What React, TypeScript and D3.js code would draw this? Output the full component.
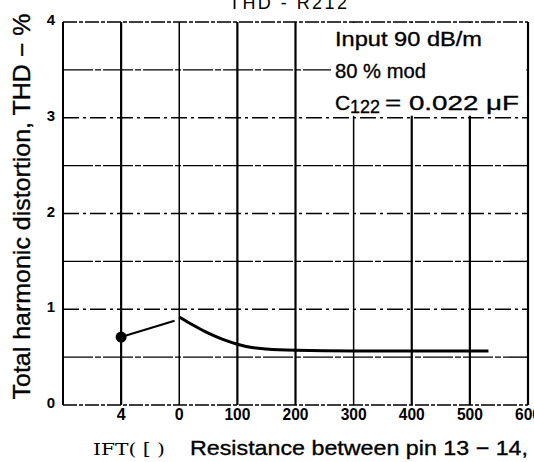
import React from 'react';
import * as d3 from 'd3';

// x values in ohms; -100 stands for the open-circuit ("4") column
const xTickValues = [-100, 0, 100, 200, 300, 400, 500, 600];
const xTickLabels = ['4', '0', '100', '200', '300', '400', '500', '600'];
const yTickValues = [0, 1, 2, 3, 4];
const yHalfLines = [0.5, 1.5, 2.5, 3.5];

// open circuit point and the short rise toward 0 ohm
const riseX = [-100, -8];
const riseY = [0.71, 0.88];

// THD vs resistance
const curveX = [0, 25, 50, 75, 100, 125, 150, 200, 300, 400, 532];
const curveY = [0.92, 0.83, 0.75, 0.685, 0.635, 0.60, 0.585, 0.572, 0.565, 0.565, 0.565];

const notes = ['Input 90 dB/m', '80 % mod'];

const W = 534;
const H = 462;
const margin = { top: 22, right: 6, bottom: 57, left: 63 };

export default function App() {
  const x = d3.scaleLinear().domain([-200, 600]).range([margin.left, W - margin.right]);
  const y = d3.scaleLinear().domain([0, 4]).range([H - margin.bottom, margin.top]);

  const line = d3.line<number>()
    .x((_, i) => x(curveX[i]))
    .y(d => y(d))
    .curve(d3.curveMonotoneX);

  const rise = d3.line<number>()
    .x((_, i) => x(riseX[i]))
    .y(d => y(d));

  const font = '"Liberation Sans", Arial, sans-serif';
  const x0 = margin.left;
  const x1 = W - margin.right;
  const y0 = y(0);
  const y1 = y(4);
  const heavy = { stroke: '#000', strokeWidth: 0.35 };

  return (
    <svg
      width={W}
      height={H}
      style={{ position: 'absolute', left: 0, top: 0, background: '#fff' }}
      fontFamily={font}
    >
      {/* title, clipped at the top of the scan */}
      <text x={288} y={9} textAnchor="middle" fontSize={18} fill="#000" textLength={118} lengthAdjust="spacing">
        THD  -  R212
      </text>

      {/* horizontal grid */}
      {yTickValues.map(v => (
        <line key={'h' + v} x1={x0} x2={x1} y1={y(v)} y2={y(v)}
          stroke="#000" strokeWidth={1.4} strokeDasharray={v === 0 || v === 4 ? '14,2,4,2' : '16,4,3,4'} />
      ))}
      {yHalfLines.map(v => (
        <line key={'hh' + v} x1={x0} x2={x1} y1={y(v)} y2={y(v)}
          stroke="#000" strokeWidth={1.4} strokeDasharray="30,2,6,2" />
      ))}

      {/* vertical grid */}
      {xTickValues.map(v => (
        <line key={'v' + v} x1={x(v)} x2={x(v)} y1={y0} y2={y1}
          stroke="#000" strokeWidth={v === 0 || v === 300 ? 1.5 : 2.2} />
      ))}
      <line x1={x0} x2={x0} y1={y0} y2={y1} stroke="#000" strokeWidth={2} />

      {/* white box behind the notes */}
      <rect x={331} y={y1 + 1} width={x1 - 331 - 1.5} height={y(3) - y1 - 3} fill="#fff" />

      {/* data */}
      <path d={rise(riseY) || ''} fill="none" stroke="#000" strokeWidth={2} />
      <circle cx={x(riseX[0])} cy={y(riseY[0])} r={5.5} fill="#000" />
      <path d={line(curveY) || ''} fill="none" stroke="#000" strokeWidth={3} />

      {/* notes */}
      <text x={335} y={46} fontSize={21} fill="#000" textLength={147} lengthAdjust="spacingAndGlyphs" {...heavy}>
        {notes[0]}
      </text>
      <text x={335} y={78} fontSize={21} fill="#000" textLength={91} lengthAdjust="spacingAndGlyphs" {...heavy}>
        {notes[1]}
      </text>
      <text x={335} y={110} fontSize={21} fill="#000" {...heavy}>C</text>
      <text x={350} y={113} fontSize={18} fill="#000" textLength={30} lengthAdjust="spacingAndGlyphs" {...heavy}>122</text>
      <text x={385} y={110} fontSize={21} fill="#000" textLength={134} lengthAdjust="spacingAndGlyphs" {...heavy}>
        = 0.022 μF
      </text>

      {/* y ticks */}
      {yTickValues.map(v => (
        <text key={'yt' + v} x={51} y={y(v) + 3} textAnchor="middle" fontSize={15} fontWeight="bold" fill="#000">
          {v}
        </text>
      ))}

      {/* x ticks */}
      {xTickValues.map((v, i) => (
        <text key={'xt' + v} x={x(v)} y={420} textAnchor="middle" fontSize={16} fontWeight="bold"
          fill="#000" textLength={i > 1 ? 26 : undefined} lengthAdjust="spacingAndGlyphs">
          {xTickLabels[i]}
        </text>
      ))}

      {/* axis titles */}
      <text
        transform="translate(30, 206.5) rotate(-90)"
        textAnchor="middle"
        fontSize={24}
        fill="#000"
        textLength={386}
        lengthAdjust="spacingAndGlyphs"
        {...heavy}
      >
        Total harmonic distortion, THD − %
      </text>
      <text x={93} y={455} fontSize={17} fill="#000" fontFamily='"DejaVu Serif", serif'
        textLength={72} lengthAdjust="spacingAndGlyphs">IFT( [ )</text>
      <text x={190} y={455} fontSize={21} fill="#000" textLength={338} lengthAdjust="spacingAndGlyphs" {...heavy}>
        Resistance between pin 13 − 14,
      </text>
    </svg>
  );
}
